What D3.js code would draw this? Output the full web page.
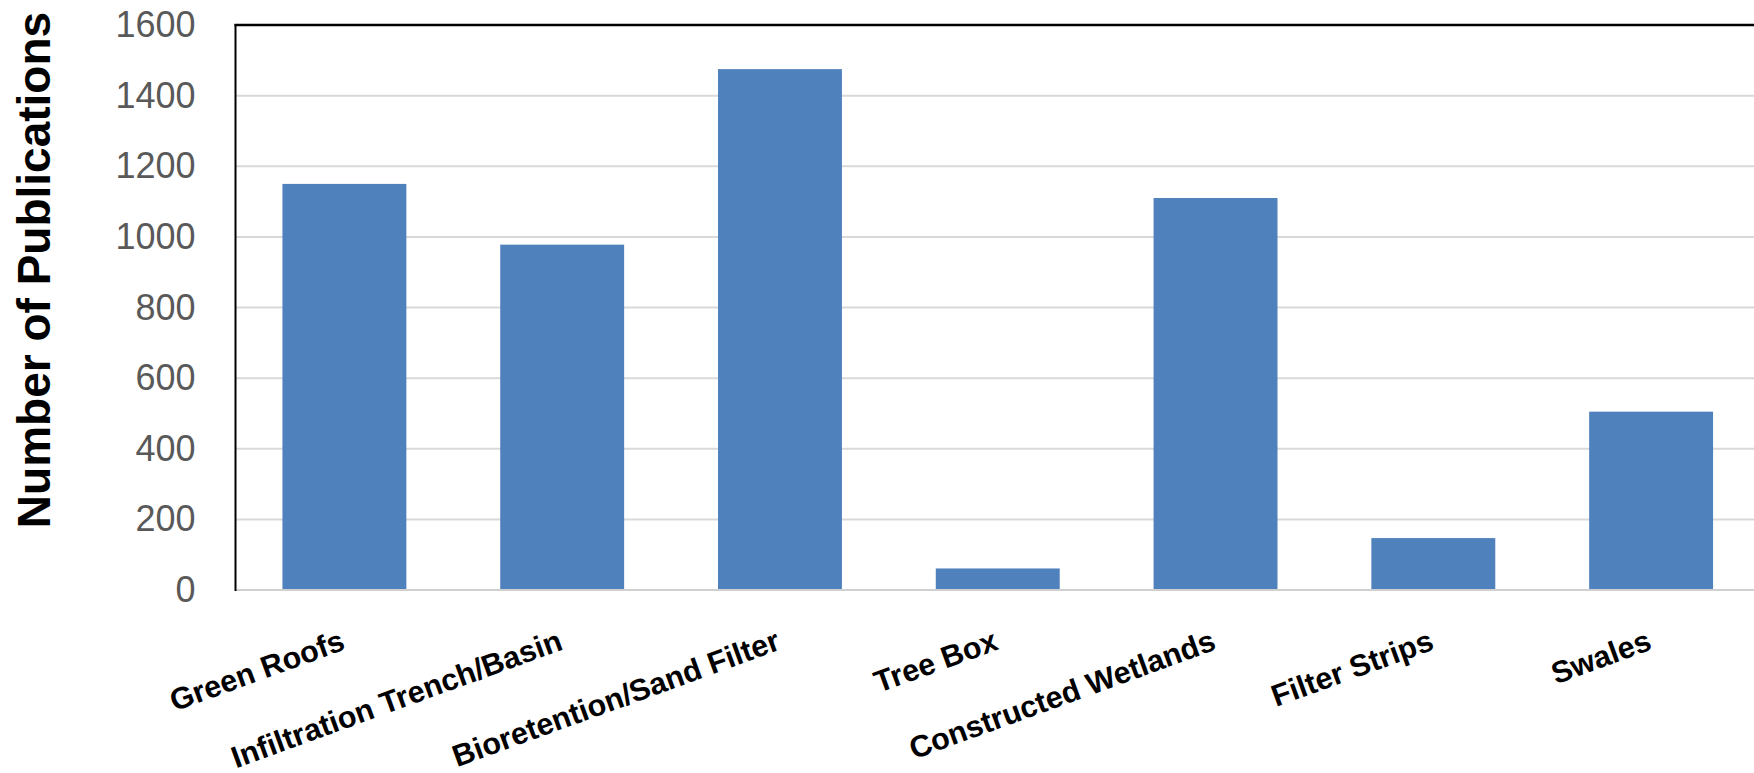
<!DOCTYPE html>
<html>
<head>
<meta charset="utf-8">
<script src="https://cdn.jsdelivr.net/npm/d3@7/dist/d3.min.js"></script>
<style>
  html, body { margin: 0; padding: 0; background: #ffffff; }
  svg { display: block; }
</style>
</head>
<body>
<svg id="chart" width="1754" height="773"></svg>
<script>
// Publications per stormwater practice
const categories = [
  "Green Roofs",
  "Infiltration Trench/Basin",
  "Bioretention/Sand Filter",
  "Tree Box",
  "Constructed Wetlands",
  "Filter Strips",
  "Swales"
];
const publications = [1150, 978, 1475, 61, 1110, 147, 505];
const yTicks = [0, 200, 400, 600, 800, 1000, 1200, 1400, 1600];
const yTitle = "Number of Publications";

const svg = d3.select("#chart");

const plot = { left: 235.5, right: 1760, top: 25, bottom: 590 };

const x = d3.scaleBand()
  .domain(categories)
  .range([plot.left, plot.right])
  .paddingInner(0.431)
  .paddingOuter(0.2155);

const y = d3.scaleLinear()
  .domain([0, 1600])
  .range([plot.bottom, plot.top]);

// horizontal gridlines
svg.append("g")
  .selectAll("line")
  .data(yTicks.filter(t => t > 0 && t < 1600))
  .join("line")
  .attr("x1", plot.left)
  .attr("x2", 1754)
  .attr("y1", d => y(d))
  .attr("y2", d => y(d))
  .attr("stroke", "#d9d9d9")
  .attr("stroke-width", 2);

// bars
svg.append("g")
  .selectAll("rect")
  .data(categories)
  .join("rect")
  .attr("x", d => x(d))
  .attr("width", x.bandwidth())
  .attr("y", (d, i) => y(publications[i]))
  .attr("height", (d, i) => y(0) - y(publications[i]))
  .attr("fill", "#4f81bd");

// category axis baseline
svg.append("line")
  .attr("x1", plot.left)
  .attr("x2", 1754)
  .attr("y1", y(0))
  .attr("y2", y(0))
  .attr("stroke", "#d0d0d0")
  .attr("stroke-width", 2);

// plot frame: left and top edges
svg.append("line")
  .attr("x1", plot.left).attr("x2", plot.left)
  .attr("y1", plot.top - 1).attr("y2", y(0) + 1)
  .attr("stroke", "#000").attr("stroke-width", 2);
svg.append("line")
  .attr("x1", plot.left - 1).attr("x2", 1754)
  .attr("y1", plot.top).attr("y2", plot.top)
  .attr("stroke", "#000").attr("stroke-width", 2.5);

// value axis labels
const yAxis = d3.axisLeft(y)
  .tickValues(yTicks)
  .tickFormat(d3.format("d"))
  .tickSize(0)
  .tickPadding(40);
const gy = svg.append("g")
  .attr("transform", `translate(${plot.left},0)`)
  .call(yAxis);
gy.select(".domain").remove();
gy.selectAll("text")
  .attr("font-family", "'Liberation Sans', Arial, sans-serif")
  .attr("font-size", 36)
  .attr("fill", "#595959");

// category labels, rotated
const gx = svg.append("g");
gx.selectAll("text")
  .data(categories)
  .join("text")
  .attr("transform", d => `translate(${x(d) + x.bandwidth() / 2 + 2},${649}) rotate(-20)`)
  .attr("text-anchor", "end")
  .attr("font-family", "'Liberation Sans', Arial, sans-serif")
  .attr("font-weight", "bold")
  .attr("font-size", 30.5)
  .attr("fill", "#000")
  .text(d => d);

// value axis title
svg.append("text")
  .attr("transform", `translate(50,270) rotate(-90)`)
  .attr("text-anchor", "middle")
  .attr("font-family", "'Liberation Sans', Arial, sans-serif")
  .attr("font-weight", "bold")
  .attr("font-size", 46)
  .attr("fill", "#000")
  .text(yTitle);
</script>
</body>
</html>
